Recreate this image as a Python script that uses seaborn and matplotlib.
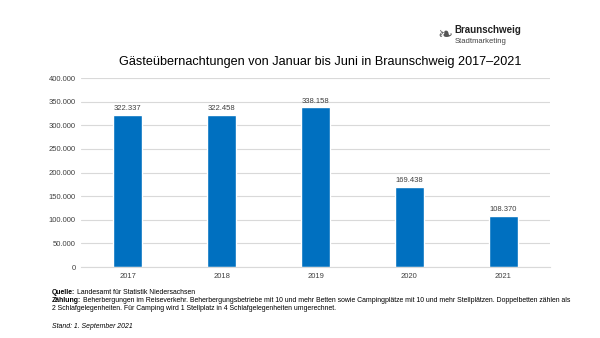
import matplotlib
matplotlib.use("Agg")
import matplotlib.pyplot as plt
import seaborn as sns
import pandas as pd
from matplotlib.ticker import FuncFormatter

years = ["2017", "2018", "2019", "2020", "2021"]
values = [322337, 322458, 338158, 169438, 108370]
value_labels = ["322.337", "322.458", "338.158", "169.438", "108.370"]
y_ticks = [0, 50000, 100000, 150000, 200000, 250000, 300000, 350000, 400000]

sns.set_theme(style="white")
plt.rcParams['font.family'] = ['Liberation Sans', 'DejaVu Sans']

df = pd.DataFrame({"Jahr": years, "Wert": values})

fig = plt.figure(figsize=(6, 3.38), dpi=100)
ax = fig.add_axes([0.135, 0.21, 0.782, 0.559])
sns.barplot(data=df, x="Jahr", y="Wert", color="#0070C0", saturation=1, width=0.31, ax=ax)

ax.set_ylim(0, 400000)
ax.set_yticks(y_ticks)
ax.yaxis.set_major_formatter(FuncFormatter(lambda v, p: "0" if v == 0 else f"{int(v):,}".replace(",", ".")))
ax.grid(axis="y", color="#d9d9d9", linewidth=0.8)
ax.set_axisbelow(True)
for s in ["top", "right", "left"]:
    ax.spines[s].set_visible(False)
ax.spines["bottom"].set_color("#d9d9d9")
ax.spines["bottom"].set_linewidth(0.8)
ax.tick_params(axis="both", length=0, labelsize=5.5, colors="#404040", pad=4)
ax.set_xlabel("")
ax.set_ylabel("")
ax.set_xlim(-0.5, 4.5)

for cont in ax.containers:
    ax.bar_label(cont, labels=value_labels, fontsize=5.5, color="#404040", padding=2)

fig.text(0.533, 0.817, "Gästeübernachtungen von Januar bis Juni in Braunschweig 2017–2021",
         ha="center", va="center", fontsize=9.1, color="#000000")

# Logo
fig.text(0.742, 0.897, "\u2767", fontsize=13, color="#555555", va="center", ha="center",
         family=["DejaVu Sans"])
fig.text(0.757, 0.912, "Braunschweig", fontsize=7, fontweight="bold", color="#222222", va="center")
fig.text(0.757, 0.878, "Stadtmarketing", fontsize=5.5, color="#444444", va="center")

fig.canvas.draw()
renderer = fig.canvas.get_renderer()

FS = 4.95

def mixed(x, y, bold, normal, size=FS):
    t = fig.text(x, y, bold, fontsize=size, fontweight="bold", va="center", color="#000000")
    bb = t.get_window_extent(renderer=renderer)
    x2 = bb.x1 / fig.bbox.width
    fig.text(x2 + 0.003, y, normal, fontsize=size, va="center", color="#000000")

mixed(0.087, 1 - 293 / 338, "Quelle:", "Landesamt für Statistik Niedersachsen")
mixed(0.087, 1 - 301 / 338, "Zählung:", "Beherbergungen im Reiseverkehr. Beherbergungsbetriebe mit 10 und mehr Betten sowie Campingplätze mit 10 und mehr Stellplätzen. Doppelbetten zählen als")
fig.text(0.087, 1 - 309 / 338, "2 Schlafgelegenheiten. Für Camping wird 1 Stellplatz in 4 Schlafgelegenheiten umgerechnet.",
         fontsize=FS, va="center", color="#000000")
fig.text(0.087, 1 - 326 / 338, "Stand: 1. September 2021", fontsize=FS, style="italic", va="center", color="#000000")

fig.savefig("out.png", dpi=100)
